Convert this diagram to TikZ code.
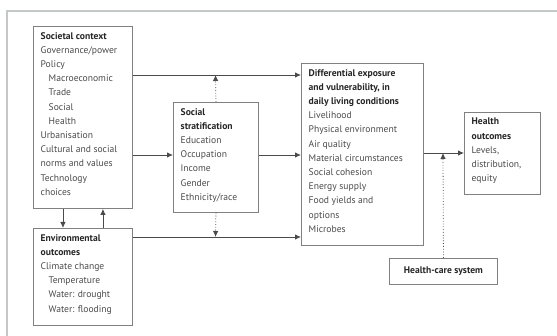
\documentclass[tikz,border=0pt]{standalone}
\usepackage{fontspec}
\setmainfont{PT Sans}
\usetikzlibrary{arrows.meta}
\definecolor{framegray}{HTML}{C4C8C8}
\definecolor{boxgray}{HTML}{808080}
\definecolor{inkgray}{HTML}{4A4A4A}
\begin{document}
\begin{tikzpicture}[
    x=1pt, y=-1pt,
    box/.style={draw=boxgray, line width=0.9pt, anchor=north west, inner sep=0pt},
    txt/.style={anchor=north west, align=left, inner xsep=7.5pt, inner ysep=6pt,
      text=inkgray, font=\fontsize{9.6}{14.2}\selectfont},
    arr/.style={-{Latex[length=6pt,width=5.5pt]}, draw=inkgray, line width=0.8pt},
    dotarr/.style={arr, dotted},
    frame/.style={draw=framegray, line width=2pt}
  ]
  \useasboundingbox (0,0) rectangle (557,336);
  \draw[frame] (6.5,336) -- (6.5,11.5) -- (557,11.5);

  % boxes
  \node[box, minimum width=99, minimum height=182] (soc) at (33,26) {};
  \node[box, minimum width=99, minimum height=97] (env) at (33,228) {};
  \node[box, minimum width=85, minimum height=110] (strat) at (173,102) {};
  \node[box, minimum width=122, minimum height=182] (diff) at (301,63) {};
  \node[box, minimum width=76, minimum height=82] (hout) at (464,112) {};
  \node[box, minimum width=108, minimum height=26, font=\fontsize{9.6}{12}\selectfont\bfseries,
    text=black!85] (hcs) at (389,258) {Health-care system};

  % texts
  \node[txt] (soctxt) at (soc.north west) {{\color{black!85}\bfseries Societal context}\\
    Governance/power\\Policy\\\hspace*{8pt}Macroeconomic\\\hspace*{8pt}Trade\\
    \hspace*{8pt}Social\\\hspace*{8pt}Health\\Urbanisation\\Cultural and social\\
    norms and values\\Technology\\choices};
  \node[txt] (envtxt) at (env.north west) {{\color{black!85}\bfseries Environmental}\\
    {\color{black!85}\bfseries outcomes}\\Climate change\\\hspace*{8pt}Temperature\\
    \hspace*{8pt}Water: drought\\\hspace*{8pt}Water: flooding};
  \node[txt] (strattxt) at (strat.north west) {{\color{black!85}\bfseries Social}\\
    {\color{black!85}\bfseries stratification}\\Education\\Occupation\\Income\\Gender\\
    Ethnicity/race};
  \node[txt] (difftxt) at (diff.north west) {{\color{black!85}\bfseries Differential exposure}\\
    {\color{black!85}\bfseries and vulnerability, in}\\
    {\color{black!85}\bfseries daily living conditions}\\Livelihood\\Physical environment\\
    Air quality\\Material circumstances\\Social cohesion\\Energy supply\\Food yields and\\
    options\\Microbes};
  \node[txt] (houttxt) at (hout.north west) {{\color{black!85}\bfseries Health}\\
    {\color{black!85}\bfseries outcomes}\\Levels,\\distribution,\\equity};

  % connector lines
  \coordinate (top) at (215.5,75);
  \coordinate (mid) at (0,155);
  \coordinate (low) at (215.5,237);
  \coordinate (out) at (443,153);

  \draw[arr] (soc.east |- top) -- (diff.west |- top);
  \draw[dotarr] (strat.north) -- (top);
  \draw[arr] (soc.east |- mid) -- (strat.west |- mid);
  \draw[arr] (strat.east |- mid) -- (diff.west |- mid);
  \draw[arr] (env.east |- low) -- (diff.west |- low);
  \draw[dotarr] (strat.south) -- (low);
  \draw[arr] ([xshift=-20pt]soc.south) -- ([xshift=-20pt]env.north);
  \draw[arr] ([xshift=20pt]env.north) -- ([xshift=20pt]soc.south);
  \draw[arr] (diff.east |- out) -- (hout.west |- out);
  \draw[dotarr] (hcs.north) -- (out);
\end{tikzpicture}
\end{document}
